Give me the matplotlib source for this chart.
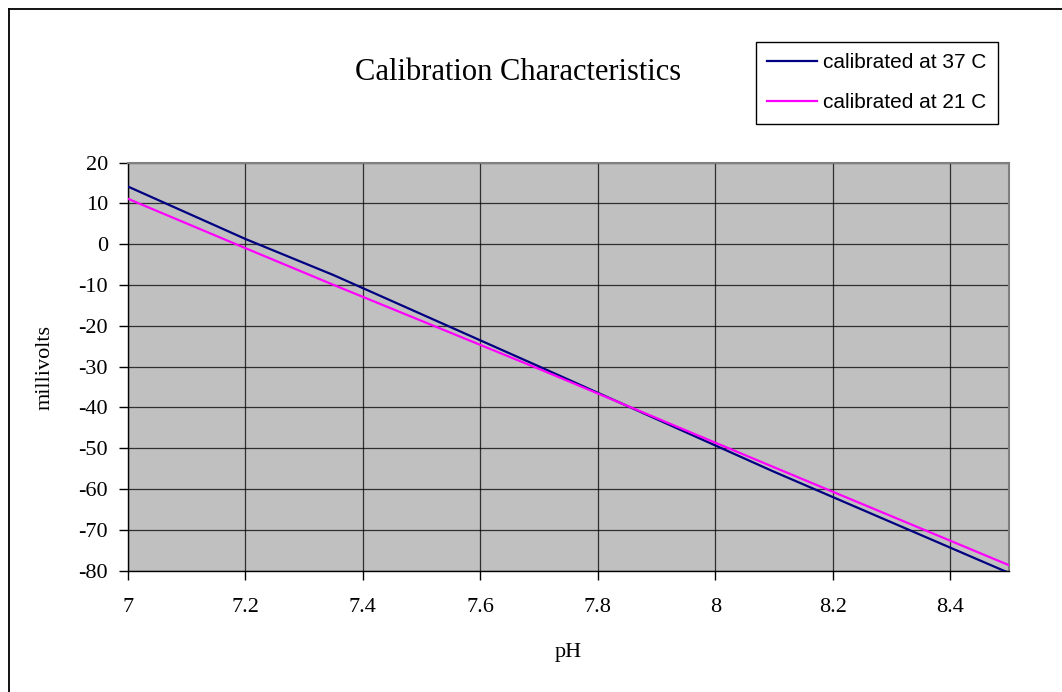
import matplotlib
matplotlib.use("Agg")
import matplotlib.pyplot as plt
from matplotlib.lines import Line2D

plt.rcParams["axes.unicode_minus"] = False

# Data
ph_37 = [7.0, 7.2, 7.35, 7.7, 8.1, 8.5]
mv_37 = [14.1, 1.25, -7.6, -30.0, -55.8, -80.6]
ph_21 = [7.0, 7.2, 7.35, 7.7, 8.1, 8.5]
mv_21 = [11.1, -1.0, -10.0, -30.6, -54.7, -78.7]
series_labels = ["calibrated at 37 C", "calibrated at 21 C"]
x_ticks = [7.0, 7.2, 7.4, 7.6, 7.8, 8.0, 8.2, 8.4]
x_tick_labels = ["7", "7.2", "7.4", "7.6", "7.8", "8", "8.2", "8.4"]
y_ticks = list(range(-80, 21, 10))

W, H = 1062, 692
fig = plt.figure(figsize=(W / 100, H / 100), dpi=100)
serif = "Liberation Serif"
sans = "Liberation Sans"

ax = fig.add_axes([128 / W, 1 - 570.5 / H, (1009 - 128) / W, (570.5 - 162.5) / H])
ax.set_facecolor("#C0C0C0")
ax.plot(ph_37, mv_37, color="#000080", lw=1.6, label=series_labels[0], zorder=3)
ax.plot(ph_21, mv_21, color="#FF00FF", lw=1.6, label=series_labels[1], zorder=3)
ax.set_xlim(7.0, 8.5)
ax.set_ylim(-80, 20)
ax.set_xticks(x_ticks)
ax.set_xticklabels(x_tick_labels)
ax.set_yticks(y_ticks)
ax.set_yticklabels([str(v) for v in y_ticks])
ax.grid(True, color="#000000", lw=0.9, alpha=0.75)
ax.set_axisbelow(True)
for s in ["top", "right"]:
    ax.spines[s].set_color("#808080")
    ax.spines[s].set_linewidth(1.5)
for s in ["left", "bottom"]:
    ax.spines[s].set_color("#000000")
    ax.spines[s].set_linewidth(1.0)
ax.tick_params(axis="both", direction="out", length=6.5, width=1.0, color="black",
               labelsize=16, labelcolor="black")
ax.tick_params(axis="y", pad=8)
ax.tick_params(axis="x", pad=13)
for lab in ax.get_xticklabels() + ax.get_yticklabels():
    lab.set_fontfamily(serif)

fig.text(518 / W, 1 - 73 / H, "Calibration Characteristics", family=serif, fontsize=22,
         ha="center", va="center")
fig.text(568.5 / W, 1 - 652 / H, "pH", family=serif, fontsize=16, ha="center", va="center")
fig.text(45 / W, 1 - 367 / H, "millivolts", family=serif, fontsize=16, ha="center",
         va="center", rotation=90)

leg = ax.legend(loc="upper left", bbox_to_anchor=(756 / W, 1 - 42 / H),
                bbox_transform=fig.transFigure, frameon=True, fancybox=False,
                prop={"family": sans, "size": 15}, handlelength=2.4,
                handletextpad=0.25, labelspacing=1.0, borderpad=0.55,
                borderaxespad=0, shadow=False)
leg.get_frame().set_edgecolor("black")
leg.get_frame().set_linewidth(1.0)
leg.get_frame().set_facecolor("white")
leg.get_frame().set_alpha(1)

# outer chart frame (left and top edges visible)
fig.add_artist(Line2D([9 / W, 9 / W], [0, 1 - 9 / H], color="black", lw=1.3,
                      transform=fig.transFigure))
fig.add_artist(Line2D([9 / W, 1], [1 - 9 / H, 1 - 9 / H], color="black", lw=1.3,
                      transform=fig.transFigure))

fig.savefig("out.png", dpi=100, facecolor="white")
